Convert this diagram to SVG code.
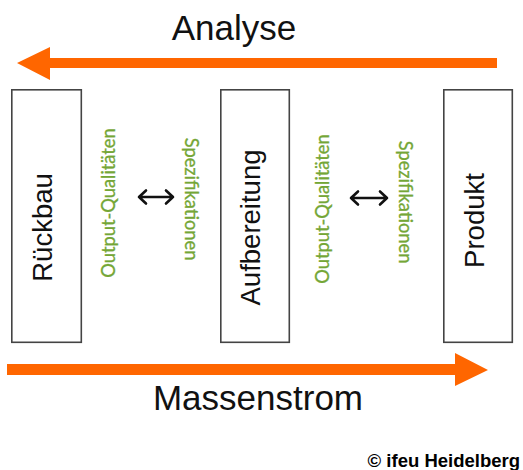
<svg xmlns="http://www.w3.org/2000/svg" width="523" height="470" viewBox="0 0 523 470">
  <style>
    .box { fill: #ffffff; stroke: #444444; stroke-width: 1.6; }
    .label { font-family: "Liberation Sans", Arial, sans-serif; font-size: 27.5px; fill: #111111; text-anchor: middle; }
    .title { font-family: "Liberation Sans", Arial, sans-serif; font-size: 35px; fill: #111111; text-anchor: middle; }
    .green { font-family: Lato, "Open Sans", sans-serif; font-size: 18.3px; fill: #74a636; text-anchor: middle; stroke: #74a636; stroke-width: 0.3; }
    .flow { fill: #ff6600; }
    .dbl { fill: none; stroke: #111111; stroke-width: 2.6; stroke-linecap: round; stroke-linejoin: round; }
    .credit { font-family: "Liberation Sans", Arial, sans-serif; font-size: 18.5px; font-weight: bold; fill: #000000; text-anchor: end; }
  </style>
  <rect width="523" height="470" fill="#ffffff"/>

  <!-- flow directions -->
  <g id="connectors">
    <g id="analyse-arrow">
      <polygon class="flow" points="17,63 50,47 50,58 497,58 497,68 50,68 50,80"/>
      <text class="title" x="234" y="40">Analyse</text>
    </g>
    <g id="massenstrom-arrow">
      <polygon class="flow" points="7,364 455,364 455,353 488,370 455,386 455,375 7,375"/>
      <text class="title" x="258" y="410">Massenstrom</text>
    </g>
    <g id="exchange-1">
      <path class="dbl" d="M139,197 H173 M146,190.5 L139,197 L146,203.5 M166,190.5 L173,197 L166,203.5"/>
      <text class="green" transform="translate(115,203) rotate(-90)">Output-Qualitäten</text>
      <text class="green" transform="translate(185,199) rotate(90)">Spezifikationen</text>
    </g>
    <g id="exchange-2">
      <path class="dbl" d="M351,198 H387 M358,191.5 L351,198 L358,204.5 M380,191.5 L387,198 L380,204.5"/>
      <text class="green" transform="translate(329,209) rotate(-90)">Output-Qualitäten</text>
      <text class="green" transform="translate(399,202) rotate(90)">Spezifikationen</text>
    </g>
  </g>

  <!-- process stages -->
  <g id="rueckbau">
    <rect class="box" x="11.8" y="89.8" width="69.5" height="252.5"/>
    <text class="label" transform="translate(52,227.5) rotate(-90)">Rückbau</text>
  </g>
  <g id="aufbereitung">
    <rect class="box" x="220.8" y="89.8" width="68.5" height="252.5"/>
    <text class="label" transform="translate(260,227.5) rotate(-90)">Aufbereitung</text>
  </g>
  <g id="produkt">
    <rect class="box" x="443.8" y="89.8" width="68.5" height="252.5"/>
    <text class="label" transform="translate(484,220.5) rotate(-90)">Produkt</text>
  </g>

  <text class="credit" x="520" y="466.5">© ifeu Heidelberg</text>
</svg>
